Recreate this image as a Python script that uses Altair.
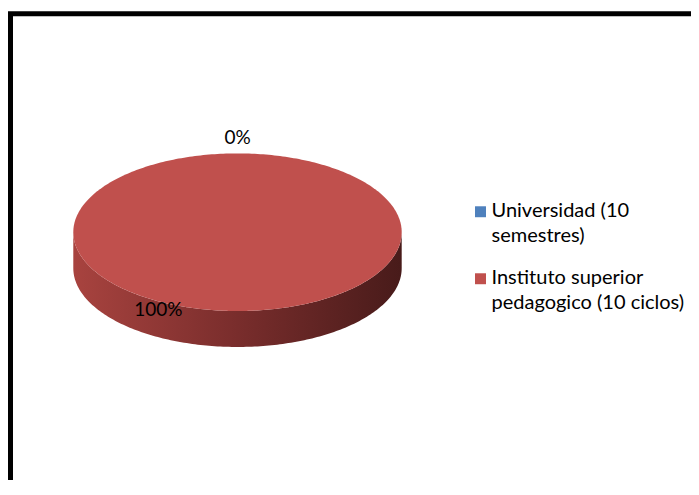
import json
import numpy as np
import pandas as pd
import altair as alt

# ---- data ----
categories = ["Universidad (10 semestres)", "Instituto superior pedagogico (10 ciclos)"]
values = [0, 100]
label_texts = ["0%", "100%"]
legend_lines = [["Universidad (10", "semestres)"], ["Instituto superior", "pedagogico (10 ciclos)"]]
colors = ["#4F81BD", "#C0504D"]

# ---- geometry / style (not data) ----
RY = 0.48        # vertical squash of the tilted pie
DEPTH = 0.219    # thickness of the pie edge
label_angle = [0.0, 206.0]    # degrees clockwise from 12 o'clock
label_radius = [1.195, 1.10]

PX = 164.2                 # pixels per unit
W, H = 700, 500            # plot area (clipped at the svg edge)
CX, CY = 227.0, 218.45     # pie centre inside plot area (px)
x_domain = [-CX / PX, (W - CX) / PX]
y_domain = [(CY - H) / PX, CY / PX]

# ---- build slice polygons from the values ----
total = float(sum(values))
top_rows, side_rows = [], []
cum = 0.0
for cat, v in zip(categories, values):
    s = cum / total * 360.0
    e = (cum + v) / total * 360.0
    cum += v
    if v <= 0:
        continue
    n = max(2, int(round(e - s)) + 1)
    th = np.linspace(s, e, n)
    k = 0
    if e - s < 360:
        top_rows.append({"cat": cat, "k": k, "x": 0.0, "y": 0.0}); k += 1
    for t in th:
        r = np.radians(t)
        top_rows.append({"cat": cat, "k": k, "x": float(np.sin(r)), "y": float(RY * np.cos(r))}); k += 1
    lo, hi = max(s, 90.0), min(e, 270.0)
    if hi > lo:
        ts = np.linspace(lo, hi, max(2, int(round(hi - lo)) + 1))
        k = 0
        for t in ts:
            r = np.radians(t)
            side_rows.append({"cat": cat, "k": k, "x": float(np.sin(r)), "y": float(RY * np.cos(r))}); k += 1
        for t in ts[::-1]:
            r = np.radians(t)
            side_rows.append({"cat": cat, "k": k, "x": float(np.sin(r)), "y": float(RY * np.cos(r) - DEPTH)}); k += 1

top_df = pd.DataFrame(top_rows)
side_df = pd.DataFrame(side_rows)
lab_df = pd.DataFrame({
    "text": label_texts,
    "x": [r * np.sin(np.radians(a)) for a, r in zip(label_angle, label_radius)],
    "y": [RY * r * np.cos(np.radians(a)) for a, r in zip(label_angle, label_radius)],
})

xs = alt.Scale(domain=x_domain, nice=False, zero=False)
ys = alt.Scale(domain=y_domain, nice=False, zero=False)

# legend label wrapping
expr = "datum.label"
for cat, lines in reversed(list(zip(categories, legend_lines))):
    expr = f"datum.label == {json.dumps(cat)} ? {json.dumps(lines)} : ({expr})"

side_fill = alt.Gradient(
    gradient="linear",
    stops=[alt.GradientStop(offset=0, color="#A8433F"),
           alt.GradientStop(offset=0.5, color="#792D2C"),
           alt.GradientStop(offset=1, color="#481B1A")],
    x1=0, x2=1, y1=0, y2=0,
)

side = alt.Chart(side_df).mark_line(fill=side_fill, strokeWidth=0).encode(
    x=alt.X("x:Q", scale=xs, axis=None),
    y=alt.Y("y:Q", scale=ys, axis=None),
    detail="cat:N",
    order=alt.Order("k:Q"),
)

top = alt.Chart(top_df).mark_line(strokeWidth=0).encode(
    x=alt.X("x:Q", scale=xs, axis=None),
    y=alt.Y("y:Q", scale=ys, axis=None),
    fill=alt.Fill(
        "cat:N",
        scale=alt.Scale(domain=categories, range=colors),
        legend=alt.Legend(
            title=None, orient="none", legendX=460, legendY=188,
            symbolType="square", symbolSize=120, symbolStrokeWidth=0,
            labelFont="Lato", labelFontSize=20, labelColor="#000000",
            labelBaseline="alphabetic", labelExpr=expr, labelLimit=400,
            labelOffset=1, rowPadding=22, padding=0,
        ),
    ),
    order=alt.Order("k:Q"),
)

labels = alt.Chart(lab_df).mark_text(font="Lato", fontSize=19, color="#000000", baseline="middle").encode(
    x=alt.X("x:Q", scale=xs, axis=None),
    y=alt.Y("y:Q", scale=ys, axis=None),
    text="text:N",
)

chart = alt.layer(side, top, labels).properties(
    width=W, height=H,
    autosize=alt.AutoSizeParams(type="none"),
    padding={"left": 2.5, "top": 5.75, "right": -19.5, "bottom": -33.75},
).configure(
    style={"guide-label": {"lineHeight": 25, "dy": 5}},
    view=alt.ViewConfig(stroke="#000000", strokeWidth=5),
)

chart.save("out.html", embed_options={"renderer": "svg", "actions": False})
